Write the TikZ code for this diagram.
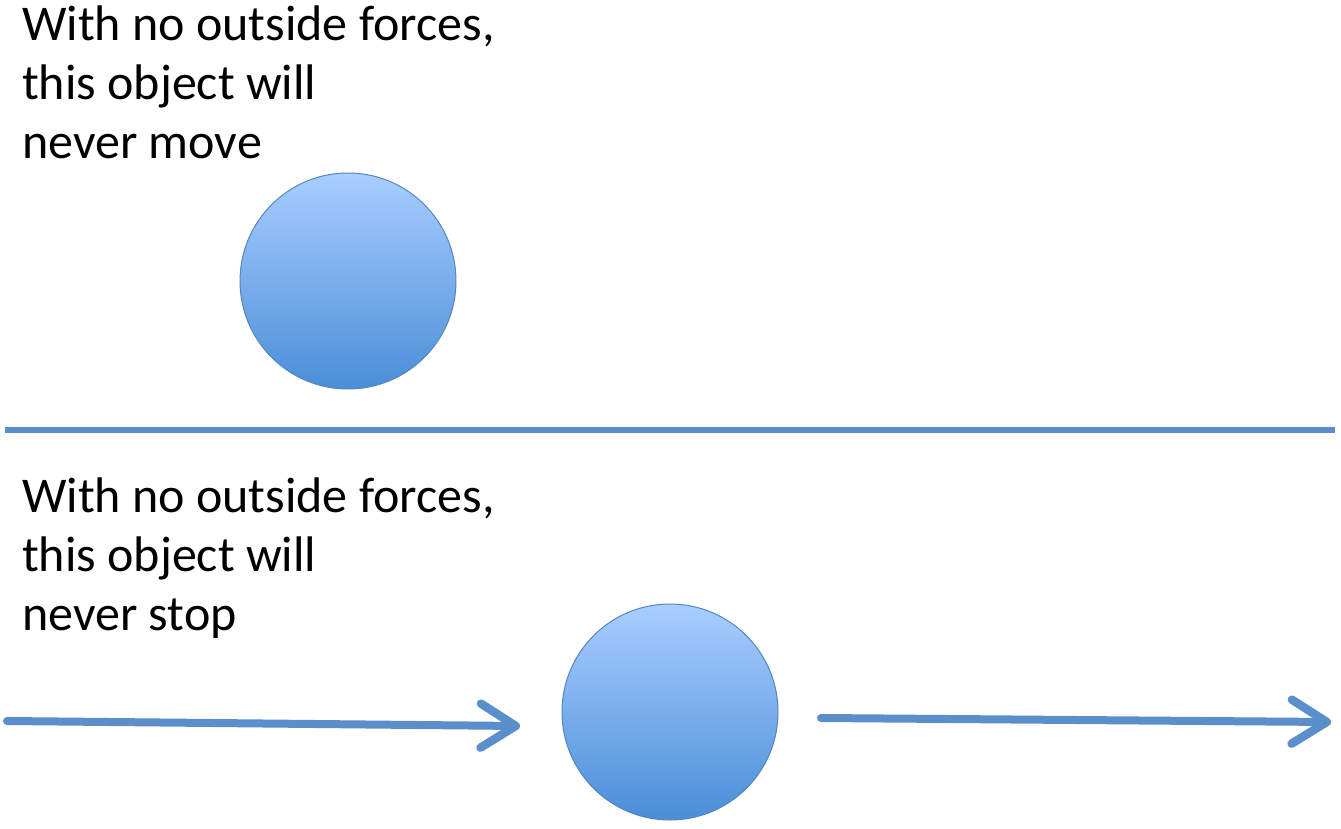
\documentclass[tikz,border=0pt]{standalone}
\usepackage{fontspec}
\setmainfont{Carlito}
\usetikzlibrary{arrows.meta}
\definecolor{lineblue}{HTML}{5B8FCB}
\definecolor{ballout}{HTML}{5585C0}
\definecolor{balltop}{HTML}{A9CEFF}
\definecolor{ballbot}{HTML}{4A8ED8}
\tikzset{
  caption/.style={anchor=base west, align=left, inner sep=0pt,
    font=\fontsize{50}{59}\selectfont},
  ball/.style={circle, minimum size=216pt, inner sep=0pt, draw=ballout, line width=1pt,
    top color=balltop, bottom color=ballbot},
  rule/.style={draw=lineblue, line width=6pt},
  motion/.style={draw=lineblue, line width=8pt, line cap=round,
    -{Straight Barb[length=35pt, width=44pt, line width=8.5pt, round]}}
}
\begin{document}
\begin{tikzpicture}[x=1pt,y=-1pt]
\useasboundingbox (0,0) rectangle (1341,829);
\node[caption] (t1) at (22,159) {With no outside forces,\\this object will\\never move};
\node[ball] (b1) at (348,281) {};
\coordinate (r1) at (5,430);
\coordinate (r2) at (1335,430);
\draw[rule] (r1) -- (r2);
\node[caption] (t2) at (22,630) {With no outside forces,\\this object will\\never stop};
\node[ball] (b2) at (670,712) {};
\coordinate (a1) at (7,721);
\coordinate (a2) at (520,726);
\coordinate (a3) at (821,718);
\coordinate (a4) at (1331,722);
\draw[motion] (a1) -- (a2);
\draw[motion] (a3) -- (a4);
\end{tikzpicture}
\end{document}
